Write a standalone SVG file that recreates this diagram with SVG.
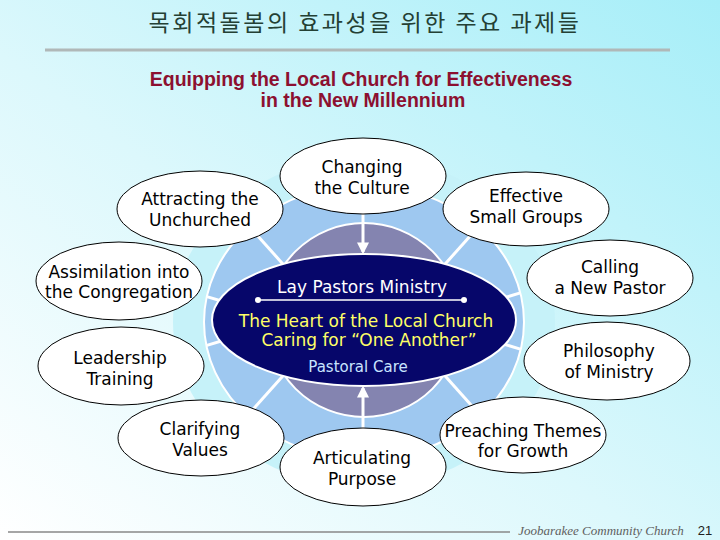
<svg xmlns="http://www.w3.org/2000/svg" width="720" height="540" viewBox="0 0 720 540">
<style>
.node ellipse{fill:#fff;stroke:#000;stroke-width:1}
.lbl{font-family:"DejaVu Sans",sans-serif;font-size:17px;fill:#000;text-anchor:middle}
.sep{stroke:#fff;stroke-width:3;fill:none}
.conn{stroke:#fff;stroke-width:3;fill:none}
</style>
<defs>
<linearGradient id="bg" x1="1" y1="0" x2="0" y2="1">
<stop offset="0" stop-color="#a6eef8"/>
<stop offset="0.55" stop-color="#dcf8fc"/>
<stop offset="1" stop-color="#ffffff"/>
</linearGradient>
<clipPath id="ring"><ellipse cx="364" cy="322" rx="160" ry="137"/></clipPath>
<marker id="ah" viewBox="0 0 10 10" refX="8" refY="5" markerWidth="4" markerHeight="4" orient="auto">
<path d="M0,0 L10,5 L0,10 Z" fill="#fff"/>
</marker>
</defs>
<rect width="720" height="540" fill="url(#bg)"/>
<text x="365" y="31" font-family="'Noto Sans CJK KR',sans-serif" font-size="23" letter-spacing="2.5" fill="#244034" text-anchor="middle">목회적돌봄의 효과성을 위한 주요 과제들</text>
<line x1="45" y1="50" x2="670" y2="50" stroke="#b0b8b8" stroke-width="3"/>
<g font-family="'Liberation Sans',sans-serif" font-weight="bold" font-size="19.5" fill="#8c1030" text-anchor="middle">
<text x="361" y="86">Equipping the Local Church for Effectiveness</text>
<text x="363" y="107">in the New Millennium</text>
</g>
<g id="hub">
<ellipse cx="364" cy="322" rx="191" ry="165" fill="#c6f2f9"/>
<ellipse cx="364" cy="322" rx="160" ry="137" fill="#9ec8f0" stroke="#fff" stroke-width="2"/>
<g clip-path="url(#ring)">
<line class="sep" x1="290" y1="272" x2="240" y2="216"/>
<line class="sep" x1="438" y1="272" x2="488" y2="216"/>
<line class="sep" x1="290" y1="368" x2="240" y2="424"/>
<line class="sep" x1="438" y1="368" x2="488" y2="424"/>
<line class="sep" x1="198" y1="294" x2="228" y2="303"/>
<line class="sep" x1="198" y1="348" x2="228" y2="339"/>
<line class="sep" x1="530" y1="290" x2="500" y2="299"/>
<line class="sep" x1="530" y1="352" x2="500" y2="343"/>
</g>
<circle cx="364" cy="320" r="97" fill="#8484b0" stroke="#fff" stroke-width="2"/>
<ellipse cx="364" cy="320" rx="152" ry="66" fill="#06066a" stroke="#fff" stroke-width="2"/>
<text x="362" y="293" font-family="'DejaVu Sans',sans-serif" font-size="17" fill="#fff" text-anchor="middle">Lay Pastors Ministry</text>
<line x1="258" y1="300" x2="464" y2="300" stroke="#fff" stroke-width="1.5"/>
<circle cx="258" cy="300" r="3" fill="#fff"/>
<circle cx="464" cy="300" r="3" fill="#fff"/>
<text x="366" y="327" font-family="'DejaVu Sans',sans-serif" font-size="17" fill="#ffff66" text-anchor="middle">The Heart of the Local Church</text>
<text x="369" y="346" font-family="'DejaVu Sans',sans-serif" font-size="17" fill="#ffff66" text-anchor="middle">Caring for “One Another”</text>
<text x="358" y="372" font-family="'DejaVu Sans',sans-serif" font-size="15" fill="#c8e4ff" text-anchor="middle">Pastoral Care</text>
</g>
<g id="connectors">
<line class="conn" x1="363" y1="212" x2="363" y2="252" marker-end="url(#ah)"/>
<line class="conn" x1="363" y1="430" x2="363" y2="388" marker-end="url(#ah)"/>
</g>
<g id="n-attracting" class="node"><ellipse cx="200" cy="209" rx="83" ry="38"/><text class="lbl" x="200" y="205">Attracting the</text><text class="lbl" x="200" y="226">Unchurched</text></g>
<g id="n-changing" class="node"><ellipse cx="363" cy="176" rx="83" ry="38"/><text class="lbl" x="362" y="173">Changing</text><text class="lbl" x="362" y="194">the Culture</text></g>
<g id="n-smallgroups" class="node"><ellipse cx="526" cy="209" rx="83" ry="37"/><text class="lbl" x="526" y="202">Effective</text><text class="lbl" x="526" y="223">Small Groups</text></g>
<g id="n-assimilation" class="node"><ellipse cx="119" cy="281" rx="83" ry="39"/><text class="lbl" x="119" y="278">Assimilation into</text><text class="lbl" x="119" y="298">the Congregation</text></g>
<g id="n-calling" class="node"><ellipse cx="610" cy="278" rx="83" ry="38"/><text class="lbl" x="610" y="273">Calling</text><text class="lbl" x="610" y="294">a New Pastor</text></g>
<g id="n-leadership" class="node"><ellipse cx="121" cy="366" rx="83" ry="39"/><text class="lbl" x="120" y="364">Leadership</text><text class="lbl" x="120" y="385">Training</text></g>
<g id="n-philosophy" class="node"><ellipse cx="607" cy="361" rx="83" ry="39"/><text class="lbl" x="609" y="357">Philosophy</text><text class="lbl" x="609" y="378">of Ministry</text></g>
<g id="n-clarifying" class="node"><ellipse cx="201" cy="438" rx="83" ry="38"/><text class="lbl" x="200" y="435">Clarifying</text><text class="lbl" x="200" y="456">Values</text></g>
<g id="n-articulating" class="node"><ellipse cx="363" cy="467" rx="83" ry="39"/><text class="lbl" x="362" y="464">Articulating</text><text class="lbl" x="362" y="485">Purpose</text></g>
<g id="n-preaching" class="node"><ellipse cx="523" cy="435" rx="83" ry="38"/><text class="lbl" x="523" y="437">Preaching Themes</text><text class="lbl" x="523" y="457">for Growth</text></g>
<line x1="8" y1="532" x2="510" y2="532" stroke="#888" stroke-width="1.5"/>
<text x="601" y="535" font-family="'Liberation Serif',serif" font-style="italic" font-size="13" fill="#606060" text-anchor="middle">Joobarakee Community Church</text>
<text x="705" y="535" font-family="'Liberation Sans',sans-serif" font-size="13" fill="#202020" text-anchor="middle">21</text>
</svg>
